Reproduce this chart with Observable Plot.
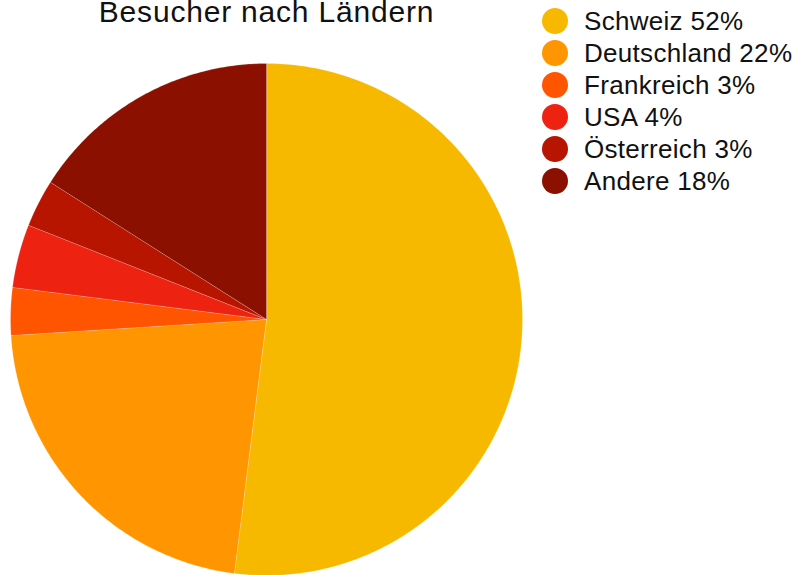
<!DOCTYPE html>
<html><head><meta charset="utf-8">
<script src="https://cdn.jsdelivr.net/npm/d3@7"></script>
<script src="https://cdn.jsdelivr.net/npm/@observablehq/plot@0.6"></script>
<style>
body{margin:0;background:#fff;font-family:"Liberation Sans",Arial,sans-serif;}
#wrap{position:relative;width:798px;height:575px;overflow:hidden;}
#title{position:absolute;left:0;width:533px;top:0px;text-align:center;font-size:30px;line-height:24px;letter-spacing:0.8px;color:#111;white-space:nowrap;}
#legend{position:absolute;left:542px;top:5px;}
.row{display:flex;align-items:center;height:32px;line-height:32px;font-size:26px;letter-spacing:0.3px;color:#111;white-space:nowrap;}
.sw{width:26px;height:26px;border-radius:50%;margin-right:16px;flex:none;}
</style></head>
<body><div id="wrap"><div id="title">Besucher nach Ländern</div><div id="legend"></div></div>
<script>
const countries = ["Schweiz","Deutschland","Frankreich","USA","Österreich","Andere"];
const values = [52, 22, 3, 4, 3, 16];
const legendLabels = ["Schweiz 52%","Deutschland 22%","Frankreich 3%","USA 4%","Österreich 3%","Andere 18%"];
const colors = ["#F6B900","#FF9500","#FF5500","#EE2211","#B81500","#8B1000"];

const pie = d3.pie().sort(null).value(d => d.value);
const arcs = pie(countries.map((c,i)=>({country:c,value:values[i]})));
function sector(a){
  const pts=[[0,0]];
  const n=Math.max(2,Math.ceil((a.endAngle-a.startAngle)/0.01));
  for(let k=0;k<=n;k++){const t=a.startAngle+(a.endAngle-a.startAngle)*k/n;pts.push([Math.sin(t),-Math.cos(t)]);}
  pts.push([0,0]);
  return {type:"Feature",properties:{country:a.data.country},geometry:{type:"Polygon",coordinates:[pts]}};
}
const features = arcs.map(sector);
const outline = {type:"Polygon",coordinates:[[[-1,-1],[1,-1],[1,1],[-1,1],[-1,-1]]]};
const chart = Plot.plot({
  width:798,height:575,
  marginLeft:10,marginRight:276,marginTop:63,marginBottom:0,
  projection:{type:"identity",domain:outline},
  color:{domain:countries,range:colors},
  marks:[
    Plot.geo(features,{fill:d=>d.properties.country,stroke:"#fff",strokeOpacity:0.35,strokeWidth:0.6})
  ]
});
chart.style.position="absolute";chart.style.left="0";chart.style.top="0";
document.getElementById("wrap").prepend(chart);
const lg=document.getElementById("legend");
legendLabels.forEach((l,i)=>{
  const r=document.createElement("div");r.className="row";
  const s=document.createElement("div");s.className="sw";s.style.background=colors[i];
  r.appendChild(s);r.appendChild(document.createTextNode(l));lg.appendChild(r);
});
</script></body></html>
